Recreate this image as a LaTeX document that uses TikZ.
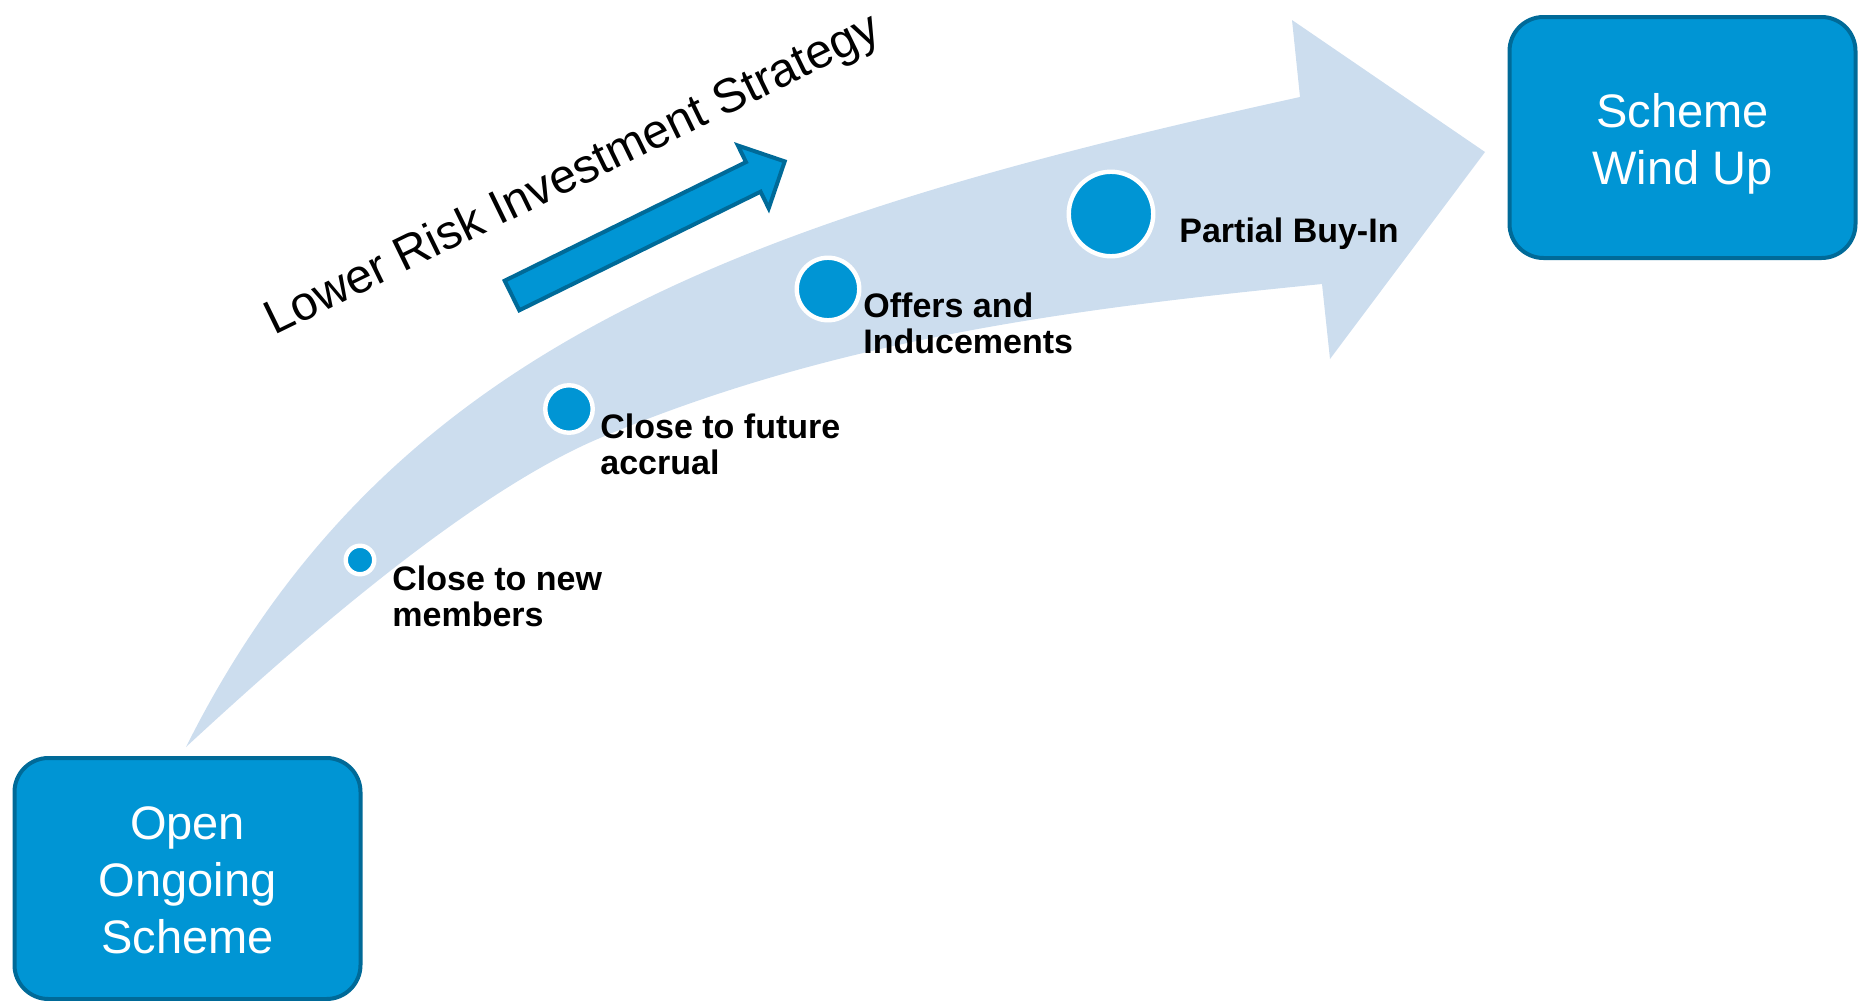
\documentclass[tikz,border=0pt]{standalone}
\usepackage{fontspec}
\setmainfont{Liberation Sans}
\usepackage{xcolor}

\definecolor{boxblue}{RGB}{0,149,212}
\definecolor{boxedge}{RGB}{0,106,152}
\definecolor{paleblue}{RGB}{204,221,238}

% keeps the box texts sitting like one-line-per-row text boxes
\newcommand{\rowstrut}{\rule[-5pt]{0pt}{28.3pt}}

\begin{document}
\begin{tikzpicture}[x=0.5pt,y=0.5pt,yscale=-1,xscale=1,
  schemebox/.style={draw=boxedge, fill=boxblue, line width=2pt, rounded corners=17pt,
    minimum width=173pt, minimum height=120.5pt, align=center, text=white,
    font=\fontsize{23.5}{28.5}\selectfont},
  stage/.style={circle, draw=white, fill=boxblue, line width=2.2pt, inner sep=0pt},
  stagelabel/.style={anchor=north west, inner sep=0pt, align=left,
    font=\bfseries\fontsize{17}{18}\selectfont}]
\useasboundingbox (0,0) rectangle (1858,1001);

%Shape: Curved Right Arrow
\fill [paleblue] (186,747) .. controls (386,347) and (740,220) .. (1300,97)
  -- (1292,20) -- (1485,152) -- (1330,359) -- (1322,284)
  .. controls (1082,308) and (840,337) .. (600,438)
  .. controls (460,497) and (276,664) .. (186,747) -- cycle ;

%Shape: Right Arrow
\draw [draw=boxedge, fill=boxblue, line width=2pt] (504.7,280.7) -- (746,162.1) -- (737.9,145.5) -- (784.7,161.4) -- (768.7,208.3) -- (760.6,191.7) -- (519.3,310.3) -- cycle ;

%Shape: Circle
\node [stage, minimum size=14.25pt] (newmembers) at (360,560) {};
%Shape: Circle
\node [stage, minimum size=23.75pt] (accrual) at (569,409) {};
%Shape: Circle
\node [stage, minimum size=31.25pt] (offers) at (828,289) {};
%Shape: Circle
\node [stage, minimum size=42.25pt] (buyin) at (1111,214) {};

%Rounded Rect
\node [schemebox] (open) at (187.5,878.5) {\rowstrut Open\\Ongoing\\Scheme\rowstrut};
%Rounded Rect
\node [schemebox] (windup) at (1682.5,137.5) {\rowstrut Scheme\\Wind Up\rowstrut};

% Text Node
\node [anchor=base west, inner sep=0pt, rotate=26, font=\fontsize{24}{28}\selectfont] (strategy) at (274,336) {Lower Risk Investment Strategy};
% Text Node
\node [stagelabel] (newmemberstext) at (392,565) {Close to new\\members};
% Text Node
\node [stagelabel] (accrualtext) at (600,413) {Close to future\\accrual};
% Text Node
\node [stagelabel] (offerstext) at (863,292) {Offers and\\Inducements};
% Text Node
\node [stagelabel] (buyintext) at (1179,217) {Partial Buy-In};

\end{tikzpicture}
\end{document}
